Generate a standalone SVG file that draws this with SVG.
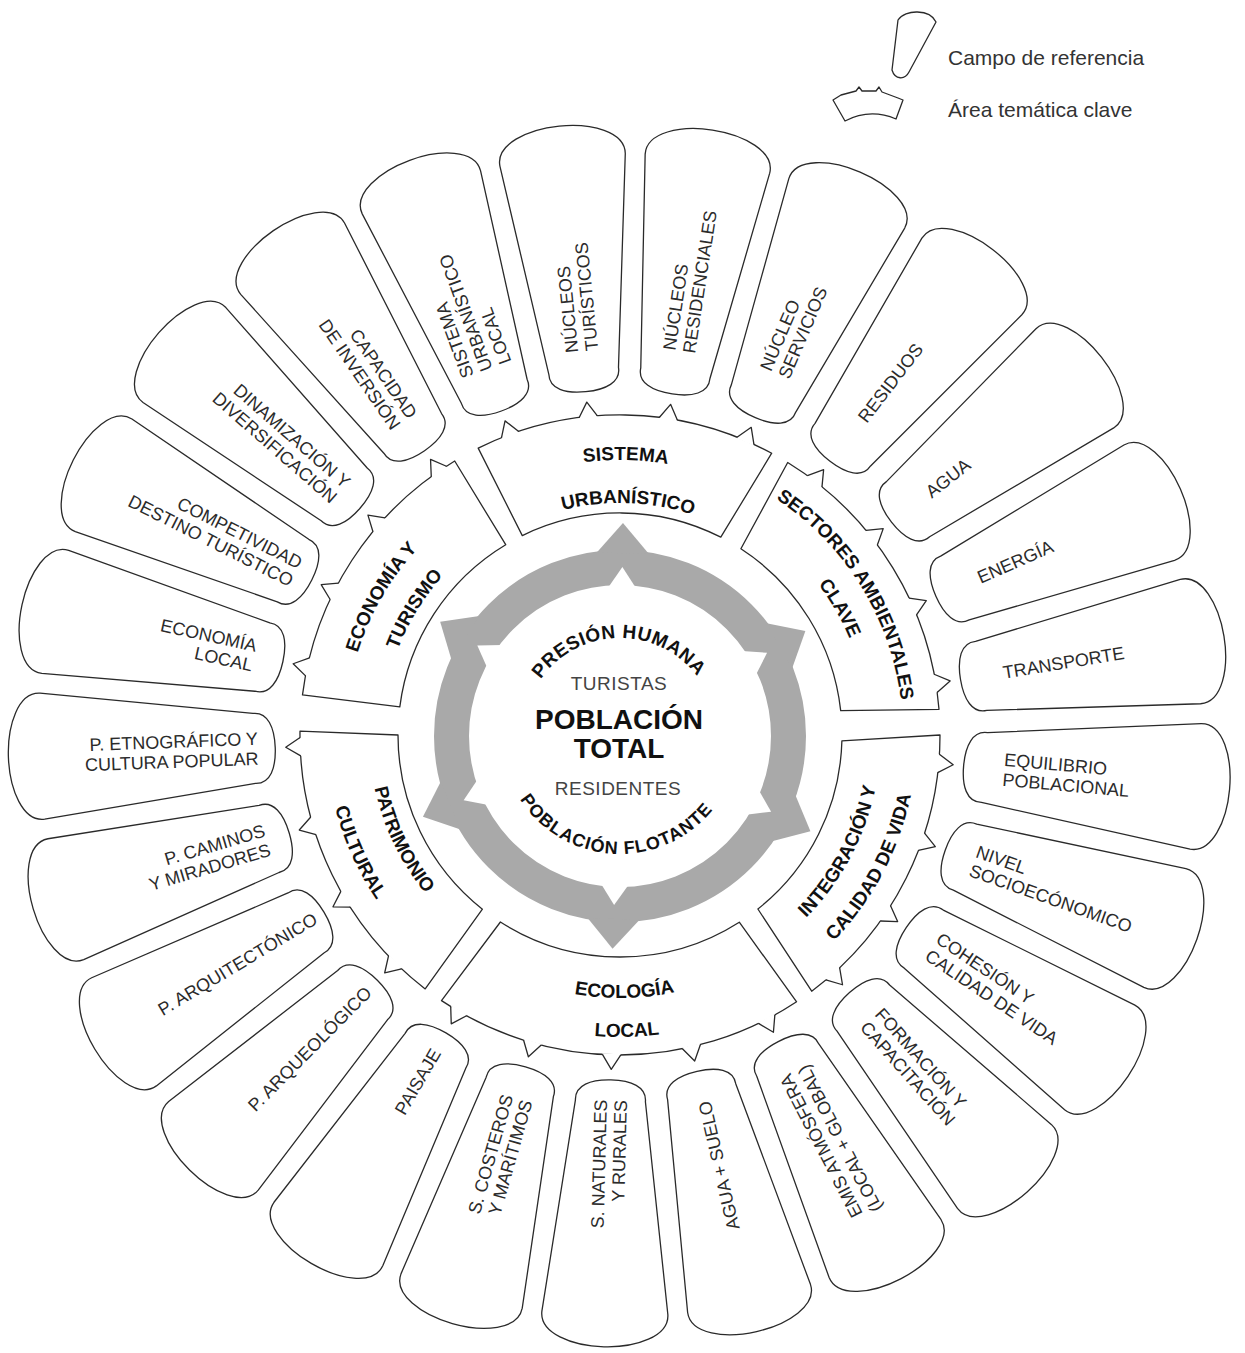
<svg xmlns="http://www.w3.org/2000/svg" xmlns:xlink="http://www.w3.org/1999/xlink" width="1245" height="1353" viewBox="0 0 1245 1353">
<style>
.ol{fill:#fff;stroke:#2a2a2a;stroke-width:1.3;stroke-linejoin:round}
.pt{font-family:"Liberation Sans",Arial,sans-serif;font-size:18px;fill:#2b2b2b}
.pe{text-anchor:end}
.kt{font-family:"Liberation Sans",Arial,sans-serif;font-size:19px;font-weight:bold;fill:#111;text-anchor:middle}
.lg{font-family:"Liberation Sans",Arial,sans-serif;font-size:21px;fill:#333}
.ring{fill:none;stroke:#a9a9a9;stroke-width:35}
.arr{fill:#a9a9a9}
.ct{font-family:"Liberation Sans",Arial,sans-serif;text-anchor:middle}
</style>
<defs>
<path id="petal" d="M 585,369 L 557,157 C 555,135 588,123 620,123 C 652,123 685,135 683,157 L 655,369 C 656,384 640,390 620,390 C 600,390 584,384 585,369 Z"/>
<g id="tooth"><path d="M610.5,416.5 L620,400.5 L629.5,416.5 Z" fill="#fff"/><path d="M610.8,415.2 L620,400.5 L629.2,415.2" fill="none" stroke="#2a2a2a" stroke-width="1.3" stroke-linejoin="round"/></g>
<g id="arrow"><polygon class="arr" points="594,553 620,523 646,553"/><polygon fill="#fff" points="606,588 620,567 634,588"/></g>
<path id="u97" d="M528.85,701.83 A97 97 0 0 1 711.15,701.83"/>
<path id="l119" d="M508.18,775.70 A119 119 0 0 0 731.82,775.70"/>
<path id="u232" d="M401.99,655.66 A232 232 0 0 1 838.01,655.66"/>
<path id="u238" d="M396.35,653.60 A238 238 0 0 1 843.65,653.60"/>
<path id="u249" d="M386.01,649.84 A249 249 0 0 1 853.99,649.84"/>
<path id="u275" d="M361.58,640.95 A275 275 0 0 1 878.42,640.95"/>
<path id="u283" d="M354.06,638.21 A283 283 0 0 1 885.94,638.21"/>
<path id="l251" d="M384.14,820.84 A251 251 0 0 0 855.86,820.84"/>
<path id="l261" d="M374.74,824.26 A261 261 0 0 0 865.26,824.26"/>
<path id="l263" d="M372.86,824.95 A263 263 0 0 0 867.14,824.95"/>
<path id="l294" d="M343.73,835.55 A294 294 0 0 0 896.27,835.55"/>
<path id="l297" d="M340.91,836.57 A297 297 0 0 0 899.09,836.57"/>
<path id="l302" d="M336.21,838.28 A302 302 0 0 0 903.79,838.28"/>
</defs>
<rect width="1245" height="1353" fill="#fff"/>

<g id="legend">
<path class="ol" d="M898,20 C905,9 930,9 936,22 L909,72 C905,80 895,80 892,70 Z"/>
<text class="lg" x="948" y="65">Campo de referencia</text>
<path class="ol" d="M845,121 L833,100 L841,95 L856,91 L859,87 L862,91 L876,91 L879,87 L882,92 L898,98 L903,100 L896,119 Q870,108 845,121 Z"/>
<text class="lg" x="948" y="117">Área temática clave</text>
</g>

<g id="fields">
<g id="p-nucleos-residenciales"><use href="#petal" class="ol" transform="rotate(8.7 620 735)"/><text class="pt" transform="rotate(8.7 620 735) translate(620 347) rotate(-90)"><tspan x="0" y="-3.5">NÚCLEOS</tspan><tspan x="0" y="16.5">RESIDENCIALES</tspan></text></g>
<g id="p-nucleo-servicios"><use href="#petal" class="ol" transform="rotate(23.1 620 735)"/><text class="pt" transform="rotate(23.1 620 735) translate(620 342) rotate(-90)"><tspan x="0" y="-3.5">NÚCLEO</tspan><tspan x="0" y="16.5">SERVICIOS</tspan></text></g>
<g id="p-residuos"><use href="#petal" class="ol" transform="rotate(37.5 620 735)"/><text class="pt" transform="rotate(37.5 620 735) translate(620 338) rotate(-90)"><tspan x="0" y="6.5">RESIDUOS</tspan></text></g>
<g id="p-agua"><use href="#petal" class="ol" transform="rotate(51.9 620 735)"/><text class="pt" transform="rotate(51.9 620 735) translate(620 344) rotate(-90)"><tspan x="0" y="6.5">AGUA</tspan></text></g>
<g id="p-energia"><use href="#petal" class="ol" transform="rotate(66.3 620 735)"/><text class="pt" transform="rotate(66.3 620 735) translate(620 344) rotate(-90)"><tspan x="0" y="6.5">ENERGÍA</tspan></text></g>
<g id="p-transporte"><use href="#petal" class="ol" transform="rotate(80.7 620 735)"/><text class="pt" transform="rotate(80.7 620 735) translate(620 347) rotate(-90)"><tspan x="0" y="6.5">TRANSPORTE</tspan></text></g>
<g id="p-equilibrio"><use href="#petal" class="ol" transform="rotate(95.1 620 735)"/><text class="pt" transform="rotate(95.1 620 735) translate(620 350) rotate(-90)"><tspan x="0" y="-3.5">EQUILIBRIO</tspan><tspan x="0" y="16.5">POBLACIONAL</tspan></text></g>
<g id="p-nivel"><use href="#petal" class="ol" transform="rotate(109.5 620 735)"/><text class="pt" transform="rotate(109.5 620 735) translate(620 360) rotate(-90)"><tspan x="0" y="-3.5">NIVEL</tspan><tspan x="0" y="16.5">SOCIOECÓNOMICO</tspan></text></g>
<g id="p-cohesion"><use href="#petal" class="ol" transform="rotate(123.9 620 735)"/><text class="pt" transform="rotate(123.9 620 735) translate(620 358) rotate(-90)"><tspan x="0" y="-3.5">COHESIÓN Y</tspan><tspan x="0" y="16.5">CALIDAD DE VIDA</tspan></text></g>
<g id="p-formacion"><use href="#petal" class="ol" transform="rotate(138.3 620 735)"/><text class="pt" transform="rotate(138.3 620 735) translate(620 357) rotate(-90)"><tspan x="0" y="-3.5">FORMACIÓN Y</tspan><tspan x="0" y="16.5">CAPACITACIÓN</tspan></text></g>
<g id="p-emis"><use href="#petal" class="ol" transform="rotate(152.7 620 735)"/><text class="pt pe" transform="rotate(152.7 620 735) translate(620 357) rotate(90)"><tspan x="0" y="-3.5">EMIS ATMÓSFERA</tspan><tspan x="0" y="16.5">(LOCAL + GLOBAL)</tspan></text></g>
<g id="p-agua-suelo"><use href="#petal" class="ol" transform="rotate(167.1 620 735)"/><text class="pt pe" transform="rotate(167.1 620 735) translate(620 359) rotate(90)"><tspan x="0" y="6.5">AGUA + SUELO</tspan></text></g>
<g id="p-naturales"><use href="#petal" class="ol" transform="rotate(181.5 620 735)"/><text class="pt pe" transform="rotate(181.5 620 735) translate(620 370) rotate(90)"><tspan x="0" y="-3.5">S. NATURALES</tspan><tspan x="0" y="16.5">Y RURALES</tspan></text></g>
<g id="p-costeros"><use href="#petal" class="ol" transform="rotate(195.9 620 735)"/><text class="pt pe" transform="rotate(195.9 620 735) translate(620 358) rotate(90)"><tspan x="0" y="-3.5">S. COSTEROS</tspan><tspan x="0" y="16.5">Y MARÍTIMOS</tspan></text></g>
<g id="p-paisaje"><use href="#petal" class="ol" transform="rotate(210.3 620 735)"/><text class="pt pe" transform="rotate(210.3 620 735) translate(620 370) rotate(90)"><tspan x="0" y="6.5">PAISAJE</tspan></text></g>
<g id="p-arqueologico"><use href="#petal" class="ol" transform="rotate(224.7 620 735)"/><text class="pt pe" transform="rotate(224.7 620 735) translate(620 377) rotate(90)"><tspan x="0" y="6.5">P. ARQUEOLÓGICO</tspan></text></g>
<g id="p-arquitectonico"><use href="#petal" class="ol" transform="rotate(239.1 620 735)"/><text class="pt pe" transform="rotate(239.1 620 735) translate(620 380) rotate(90)"><tspan x="0" y="6.5">P. ARQUITECTÓNICO</tspan></text></g>
<g id="p-caminos"><use href="#petal" class="ol" transform="rotate(253.5 620 735)"/><text class="pt pe" transform="rotate(253.5 620 735) translate(620 367) rotate(90)"><tspan x="0" y="-3.5">P. CAMINOS</tspan><tspan x="0" y="16.5">Y MIRADORES</tspan></text></g>
<g id="p-etnografico"><use href="#petal" class="ol" transform="rotate(267.9 620 735)"/><text class="pt pe" transform="rotate(267.9 620 735) translate(620 373) rotate(90)"><tspan x="0" y="-3.5">P. ETNOGRÁFICO Y</tspan><tspan x="0" y="16.5">CULTURA POPULAR</tspan></text></g>
<g id="p-economia-local"><use href="#petal" class="ol" transform="rotate(282.3 620 735)"/><text class="pt pe" transform="rotate(282.3 620 735) translate(620 361) rotate(90)"><tspan x="0" y="-3.5">ECONOMÍA</tspan><tspan x="0" y="16.5">LOCAL</tspan></text></g>
<g id="p-competividad"><use href="#petal" class="ol" transform="rotate(296.7 620 735)"/><text class="pt pe" transform="rotate(296.7 620 735) translate(620 373) rotate(90)"><tspan x="0" y="-3.5">COMPETIVIDAD</tspan><tspan x="0" y="16.5">DESTINO TURÍSTICO</tspan></text></g>
<g id="p-dinamizacion"><use href="#petal" class="ol" transform="rotate(311.1 620 735)"/><text class="pt pe" transform="rotate(311.1 620 735) translate(620 365) rotate(90)"><tspan x="0" y="-3.5">DINAMIZACIÓN Y</tspan><tspan x="0" y="16.5">DIVERSIFICACIÓN</tspan></text></g>
<g id="p-capacidad"><use href="#petal" class="ol" transform="rotate(325.5 620 735)"/><text class="pt pe" transform="rotate(325.5 620 735) translate(620 355) rotate(90)"><tspan x="0" y="-3.5">CAPACIDAD</tspan><tspan x="0" y="16.5">DE INVERSIÓN</tspan></text></g>
<g id="p-sistema-local"><use href="#petal" class="ol" transform="rotate(339.9 620 735)"/><text class="pt" transform="rotate(339.9 620 735) translate(620 347) rotate(-90)"><tspan x="0" y="-13.5">SISTEMA</tspan><tspan x="0" y="6.5">URBANÍSTICO</tspan><tspan x="0" y="26.5">LOCAL</tspan></text></g>
<g id="p-nucleos-turisticos"><use href="#petal" class="ol" transform="rotate(354.3 620 735)"/><text class="pt" transform="rotate(354.3 620 735) translate(620 350) rotate(-90)"><tspan x="0" y="-3.5">NÚCLEOS</tspan><tspan x="0" y="16.5">TURÍSTICOS</tspan></text></g>
</g>

<g id="key-areas">
<g id="k-sistema"><path class="ol" d="M522.3,535.6 L478.2,448.1 A320 320 0 0 1 771.7,453.2 L720.8,537.2 A222 222 0 0 0 522.3,535.6 Z"/>
<text class="kt" transform="rotate(1.2 620 735)"><textPath href="#u275" startOffset="50%">SISTEMA</textPath></text>
<text class="kt" transform="rotate(2 620 735)"><textPath href="#u232" startOffset="50%">URBANÍSTICO</textPath></text></g>
<g id="k-sectores"><path class="ol" d="M740.9,548.8 L787.7,462.5 A320 320 0 0 1 939.0,709.3 L840.7,710.6 A222 222 0 0 0 740.9,548.8 Z"/>
<text class="kt" transform="rotate(58.2 620 735)"><textPath href="#u283" startOffset="50%">SECTORES AMBIENTALES</textPath></text>
<text class="kt" transform="rotate(60 620 735)"><textPath href="#u249" startOffset="50%">CLAVE</textPath></text></g>
<g id="k-integracion"><path class="ol" d="M841.9,740.8 L940,735 A320 320 0 0 1 811.7,991.2 L757.9,909.0 A222 222 0 0 0 841.9,740.8 Z"/>
<text class="kt" transform="rotate(-62 620 735)"><textPath href="#l261" startOffset="50%">INTEGRACIÓN Y</textPath></text>
<text class="kt" transform="rotate(-62.2 620 735)"><textPath href="#l297" startOffset="50%">CALIDAD DE VIDA</textPath></text></g>
<g id="k-ecologia"><path class="ol" d="M739.3,922.2 L796.6,1001.8 A320 320 0 0 1 441.5,1000.6 L500.4,922.0 A222 222 0 0 0 739.3,922.2 Z"/>
<text class="kt" transform="rotate(-1 620 735)"><textPath href="#l263" startOffset="50%">ECOLOGÍA</textPath></text>
<text class="kt" transform="rotate(-1.3 620 735)"><textPath href="#l302" startOffset="50%">LOCAL</textPath></text></g>
<g id="k-patrimonio"><path class="ol" d="M482.4,909.2 L425.2,988.9 A320 320 0 0 1 300.0,731.1 L398,735 A222 222 0 0 0 482.4,909.2 Z"/>
<text class="kt" transform="rotate(64.3 620 735)"><textPath href="#l251" startOffset="50%">PATRIMONIO</textPath></text>
<text class="kt" transform="rotate(65.8 620 735)"><textPath href="#l294" startOffset="50%">CULTURAL</textPath></text></g>
<g id="k-economia"><path class="ol" d="M399.8,706.8 L302.5,694.9 A320 320 0 0 1 454.7,461.0 L505.7,544.7 A222 222 0 0 0 399.8,706.8 Z"/>
<text class="kt" transform="rotate(-60 620 735)"><textPath href="#u275" startOffset="50%">ECONOMÍA Y</textPath></text>
<text class="kt" transform="rotate(-58.5 620 735)"><textPath href="#u238" startOffset="50%">TURISMO</textPath></text></g>
</g>

<g id="connectors">
<use href="#tooth" transform="rotate(339.9 620 735)"/><use href="#tooth" transform="rotate(354.3 620 735)"/><use href="#tooth" transform="rotate(8.7 620 735)"/><use href="#tooth" transform="rotate(23.1 620 735)"/>
<use href="#tooth" transform="rotate(37.5 620 735)"/><use href="#tooth" transform="rotate(51.9 620 735)"/><use href="#tooth" transform="rotate(66.3 620 735)"/><use href="#tooth" transform="rotate(80.7 620 735)"/>
<use href="#tooth" transform="rotate(95.1 620 735)"/><use href="#tooth" transform="rotate(109.5 620 735)"/><use href="#tooth" transform="rotate(123.9 620 735)"/><use href="#tooth" transform="rotate(138.3 620 735)"/>
<use href="#tooth" transform="rotate(152.7 620 735)"/><use href="#tooth" transform="rotate(167.1 620 735)"/><use href="#tooth" transform="rotate(181.5 620 735)"/><use href="#tooth" transform="rotate(195.9 620 735)"/><use href="#tooth" transform="rotate(210.3 620 735)"/>
<use href="#tooth" transform="rotate(224.7 620 735)"/><use href="#tooth" transform="rotate(239.1 620 735)"/><use href="#tooth" transform="rotate(253.5 620 735)"/><use href="#tooth" transform="rotate(267.9 620 735)"/>
<use href="#tooth" transform="rotate(282.3 620 735)"/><use href="#tooth" transform="rotate(296.7 620 735)"/><use href="#tooth" transform="rotate(311.1 620 735)"/><use href="#tooth" transform="rotate(325.5 620 735)"/>
</g>

<g id="center">
<circle class="ring" cx="620" cy="736" r="168.5"/>
<use href="#arrow" transform="rotate(0.8 620 736)"/>
<use href="#arrow" transform="rotate(60.5 620 736)"/>
<use href="#arrow" transform="rotate(116.6 620 736)"/>
<use href="#arrow" transform="rotate(182 620 736)"/>
<use href="#arrow" transform="rotate(247.7 620 736)"/>
<use href="#arrow" transform="rotate(302.4 620 736)"/>
<text class="ct" font-size="19" font-weight="bold" fill="#111" letter-spacing="0.5" transform="rotate(-1 620 735)"><textPath href="#u97" startOffset="50%">PRESIÓN HUMANA</textPath></text>
<text class="ct" x="619" y="690" font-size="19" fill="#444" letter-spacing="0.5">TURISTAS</text>
<text class="ct" x="619" y="729" font-size="28" font-weight="bold" fill="#111">POBLACIÓN</text>
<text class="ct" x="619" y="758" font-size="28" font-weight="bold" fill="#111">TOTAL</text>
<text class="ct" x="618" y="795" font-size="19" fill="#444" letter-spacing="0.5">RESIDENTES</text>
<text class="ct" font-size="18" font-weight="bold" fill="#111" letter-spacing="1" transform="rotate(2.9 620 735)"><textPath href="#l119" startOffset="50%">POBLACIÓN FLOTANTE</textPath></text>
</g>
</svg>
